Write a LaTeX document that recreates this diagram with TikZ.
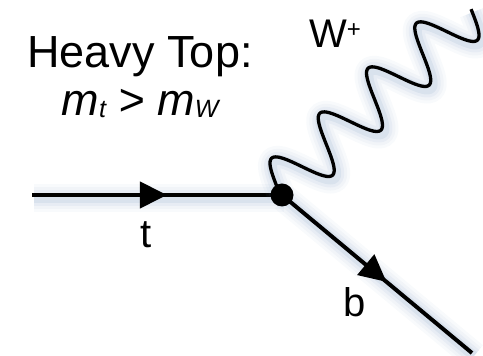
\documentclass[tikz,border=0pt]{standalone}
\usepackage{fontspec}
\setmainfont{Liberation Sans}
\usetikzlibrary{arrows.meta,positioning,decorations.markings}
\definecolor{glowblue}{RGB}{120,150,190}
\newcommand{\lowsub}[1]{\raisebox{-2pt}{\fontsize{25}{25}\selectfont #1}}
\newcommand{\highsup}[1]{\raisebox{10pt}{\fontsize{24}{24}\selectfont #1}}

\begin{document}
\begin{tikzpicture}[x=1pt, y=1pt,
    glow/.style={
      preaction={draw=glowblue, line width=28pt, opacity=0.05, transform canvas={shift={(2pt,-3pt)}}},
      preaction={draw=glowblue, line width=22pt, opacity=0.06, transform canvas={shift={(2pt,-3pt)}}},
      preaction={draw=glowblue, line width=16pt, opacity=0.08, transform canvas={shift={(2pt,-3pt)}}},
      preaction={draw=glowblue, line width=10pt, opacity=0.12, transform canvas={shift={(2pt,-3pt)}}}},
    fermion/.style={glow, line width=4pt, postaction={decorate},
      decoration={markings, mark=at position #1 with {\arrow{Triangle[length=27pt,width=26pt]}}}},
    boson/.style={glow, line width=3.3pt},
    vertexdot/.style={circle, fill=black, inner sep=0pt, minimum size=23pt},
    heading/.style={font=\fontsize{45}{54}\selectfont, anchor=base},
    lbl/.style={font=\fontsize{40}{48}\selectfont, anchor=base}]
  \useasboundingbox (0,0) rectangle (483,356);
  \coordinate (v) at (282,161);
  \coordinate (tin) at (32,161);
  \coordinate (bout) at (472,3);
  % quark lines
  \draw[fermion=0.54] (tin) -- (v);
  \draw[fermion=0.55] (v) -- (bout);
  % W boson
  \begin{scope}[shift={(v)}, rotate=43]
    \draw[boson] plot[domain=0:265, samples=200, smooth] (\x, {7+27*sin((\x-1)*5.4545)});
  \end{scope}
  \node[vertexdot] (vtx) at (v) {};
  % labels
  \node[heading] (title) at (140,288) {Heavy Top:};
  \node[heading, below=48pt of title.base, anchor=base] (mass) {\itshape m\lowsub{t} > m\lowsub{W}};
  \node[lbl] (wlabel) at (335,308) {W\highsup{+}};
  \node[lbl] (tlabel) at (146,108) {t};
  \node[lbl] (blabel) at (355,39) {b};
\end{tikzpicture}
\end{document}
